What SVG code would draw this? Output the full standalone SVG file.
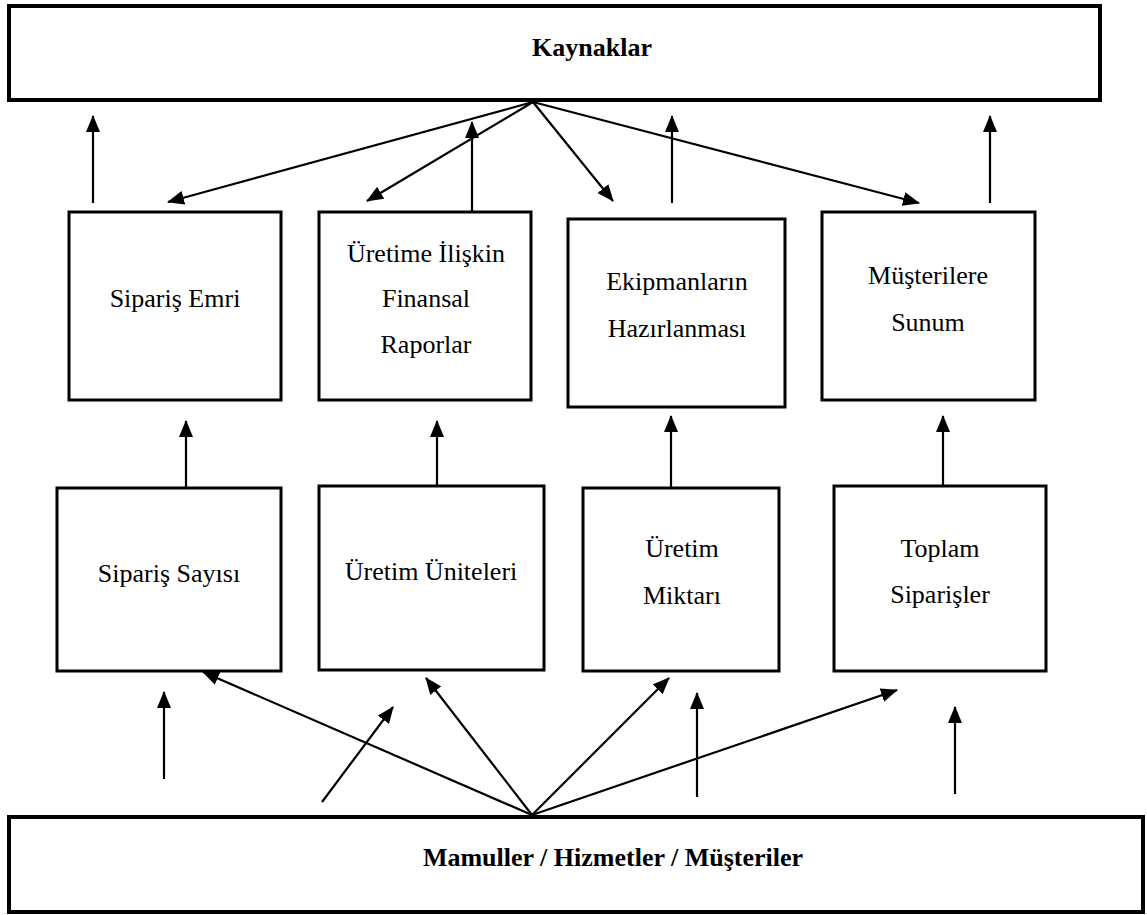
<svg xmlns="http://www.w3.org/2000/svg" width="1147" height="915" viewBox="0 0 1147 915">
<style>
.box{fill:#fff;stroke:#000;stroke-width:3}
.big{fill:#fff;stroke:#000;stroke-width:4}
text{font-family:"Liberation Serif",Tinos,"Times New Roman",Times,"Noto Serif","DejaVu Serif",serif;font-size:26px;fill:#000;text-anchor:middle}
.b{font-weight:bold}
.c line{stroke:#000;stroke-width:2.2}
.a{marker-end:url(#ah)}
</style>
<defs>
<marker id="ah" markerUnits="userSpaceOnUse" markerWidth="17" markerHeight="14" refX="16" refY="7" orient="auto">
<path d="M0,0 L17,7 L0,14 z" fill="#000"/>
</marker>
</defs>
<rect width="1147" height="915" fill="#fff"/>
<g id="kaynaklar"><rect class="big" x="9" y="6" width="1091" height="94"/><text class="b" x="592" y="56">Kaynaklar</text></g>
<g id="siparis-emri"><rect class="box" x="69" y="212" width="212" height="188"/><text x="175" y="307">Sipariş Emri</text></g>
<g id="finansal-raporlar"><rect class="box" x="319" y="212" width="212" height="188"/><text x="426" y="262">Üretime İlişkin</text><text x="426" y="307">Finansal</text><text x="426" y="353">Raporlar</text></g>
<g id="ekipman"><rect class="box" x="568" y="219" width="217" height="188"/><text x="677" y="290">Ekipmanların</text><text x="677" y="337">Hazırlanması</text></g>
<g id="musterilere-sunum"><rect class="box" x="822" y="212" width="213" height="188"/><text x="928" y="284">Müşterilere</text><text x="928" y="331">Sunum</text></g>
<g id="siparis-sayisi"><rect class="box" x="57" y="488" width="224" height="183"/><text x="169" y="582">Sipariş Sayısı</text></g>
<g id="uretim-uniteleri"><rect class="box" x="319" y="486" width="225" height="184"/><text x="431" y="580">Üretim Üniteleri</text></g>
<g id="uretim-miktari"><rect class="box" x="583" y="488" width="196" height="183"/><text x="682" y="557">Üretim</text><text x="682" y="604">Miktarı</text></g>
<g id="toplam-siparisler"><rect class="box" x="834" y="486" width="212" height="185"/><text x="940" y="557">Toplam</text><text x="940" y="603">Siparişler</text></g>
<g id="mamuller"><rect class="big" x="9" y="817" width="1134" height="95"/><text class="b" x="613" y="866">Mamuller / Hizmetler / Müşteriler</text></g>
<g id="connectors" class="c">
<line class="a" x1="533" y1="102" x2="168" y2="202"/>
<line class="a" x1="533" y1="102" x2="367" y2="201"/>
<line class="a" x1="533" y1="102" x2="613" y2="201"/>
<line class="a" x1="533" y1="102" x2="919" y2="203"/>
<line class="a" x1="93" y1="203" x2="93" y2="116"/>
<line class="a" x1="472" y1="211" x2="472" y2="122"/>
<line class="a" x1="672" y1="203" x2="672" y2="116"/>
<line class="a" x1="990" y1="203" x2="990" y2="116"/>
<line class="a" x1="186" y1="488" x2="186" y2="421"/>
<line class="a" x1="437" y1="486" x2="437" y2="421"/>
<line class="a" x1="671" y1="488" x2="671" y2="416"/>
<line class="a" x1="943" y1="486" x2="943" y2="416"/>
<line class="a" x1="532" y1="815" x2="203" y2="672"/>
<line class="a" x1="532" y1="815" x2="426" y2="678"/>
<line class="a" x1="532" y1="815" x2="669" y2="678"/>
<line class="a" x1="532" y1="815" x2="897" y2="690"/>
<line class="a" x1="322" y1="802" x2="393" y2="707"/>
<line class="a" x1="164" y1="779" x2="164" y2="692"/>
<line class="a" x1="697" y1="797" x2="697" y2="693"/>
<line class="a" x1="955" y1="794" x2="955" y2="707"/>
</g>
</svg>
